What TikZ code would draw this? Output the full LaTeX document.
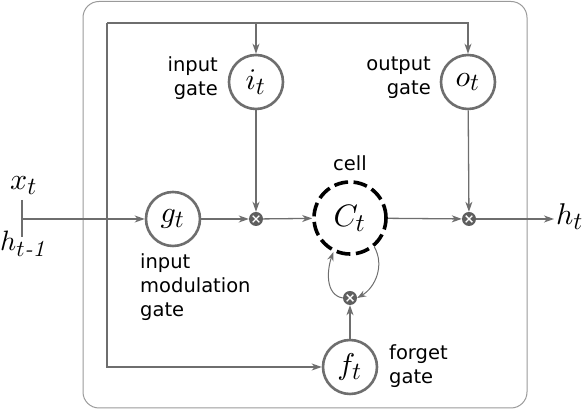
\documentclass[tikz,border=0pt]{standalone}
\usepackage{graphicx}
\usepackage{fontspec}
\setsansfont{DejaVu Sans}
\usetikzlibrary{arrows.meta}
\definecolor{lc}{HTML}{6E6E6E}
\definecolor{bc}{HTML}{9A9A9A}
\definecolor{mc}{HTML}{5E5E5E}
\newcommand{\mv}[3]{\scalebox{#3}{$#1_{\scalebox{0.82}{$\textstyle #2$}}$}}
\begin{document}
\begin{tikzpicture}[x=1pt,y=1pt,
  ln/.style={draw=lc,line width=1.3pt},
  arr/.style={ln,-{Stealth[length=10pt,width=7pt,inset=3pt]}},
  gate/.style={circle,draw=lc,line width=2.6pt,fill=white,minimum size=54pt,inner sep=0pt},
  cellc/.style={circle,draw=black,line width=3.6pt,dash pattern=on 14pt off 5.5pt,fill=white,minimum size=72pt,inner sep=0pt},
  mult/.style={circle,fill=mc,minimum size=14pt,inner sep=0pt},
  lbl/.style={font=\sffamily\fontsize{19.5}{24}\selectfont,inner sep=0pt},
  mathl/.style={inner sep=0pt}
]
\useasboundingbox (0,0) rectangle (582,411);
\draw[draw=bc,line width=1pt,rounded corners=16pt] (83,409.5) rectangle (527,3);
% nodes
\node[gate] (g) at (173,192) {\mv{g}{t}{3.0}};
\node[gate] (i) at (256,329) {\mv{i}{t}{3.0}};
\node[gate] (o) at (468,329) {\mv{o}{t}{3.0}};
\node[gate] (f) at (350,44) {\mv{f}{t}{3.0}};
\node[cellc] (c) at (350,193) {\mv{C}{t}{3.1}};
\node[mult] (m1) at (256,192) {};
\node[mult] (m2) at (469,192) {};
\node[mult] (m3) at (350,113) {};
\foreach \m in {m1,m2,m3}{
  \draw[white,line width=1.4pt] ([shift={(-3.3,-3.3)}]\m.center) -- ([shift={(3.3,3.3)}]\m.center);
  \draw[white,line width=1.4pt] ([shift={(-3.3,3.3)}]\m.center) -- ([shift={(3.3,-3.3)}]\m.center);
}
% coordinates
\coordinate (in) at (22,192);
\coordinate (tka) at (22,211);
\coordinate (tkb) at (22,174);
\coordinate (tl) at (107,388);
\coordinate (ti) at (256,388);
\coordinate (hend) at (554,192);
% labels
\node[mathl,anchor=base] (xt) at (24,221) {\mv{x}{t}{3.0}};
\node[mathl,anchor=base west] (hp) at (0,160) {\mv{h}{t\textit{-1}}{2.8}};
\node[mathl,anchor=base west] (ht) at (556,186) {\mv{h}{t}{3.0}};
\node[lbl,align=right,anchor=east] (li) at (218,333) {input\\gate};
\node[lbl,align=right,anchor=east] (lo) at (431,333) {output\\gate};
\node[lbl,anchor=base] (lc) at (350,240) {cell};
\node[lbl,align=left,anchor=west] (lf) at (389,45) {forget\\gate};
\node[lbl,align=left,anchor=west] (lg) at (140,124) {input\\modulation\\gate};
% connectors
\draw[ln] (tka) -- (tkb);
\draw[arr] (in) -- (g);
\draw[arr] (g) -- (m1);
\draw[arr] (m1) -- (c);
\draw[arr] (c) -- (m2);
\draw[arr] (m2) -- (hend);
\draw[arr] (tl) |- (f);
\draw[arr] (tl) -| (o);
\draw[arr] (ti) -- (i);
\draw[arr] (i) -- (m1);
\draw[arr] (o) -- (m2);
\draw[arr] (f) -- (m3);
\draw[ln,line width=1pt,-{Stealth[length=9pt,width=6.5pt,inset=3pt]}] (m3.west) to[out=170,in=250] (c.244);
\draw[ln,line width=1pt,-{Stealth[length=9pt,width=6.5pt,inset=3pt]}] (c.-50) to[out=-60,in=30] (m3.east);
\end{tikzpicture}
\end{document}
